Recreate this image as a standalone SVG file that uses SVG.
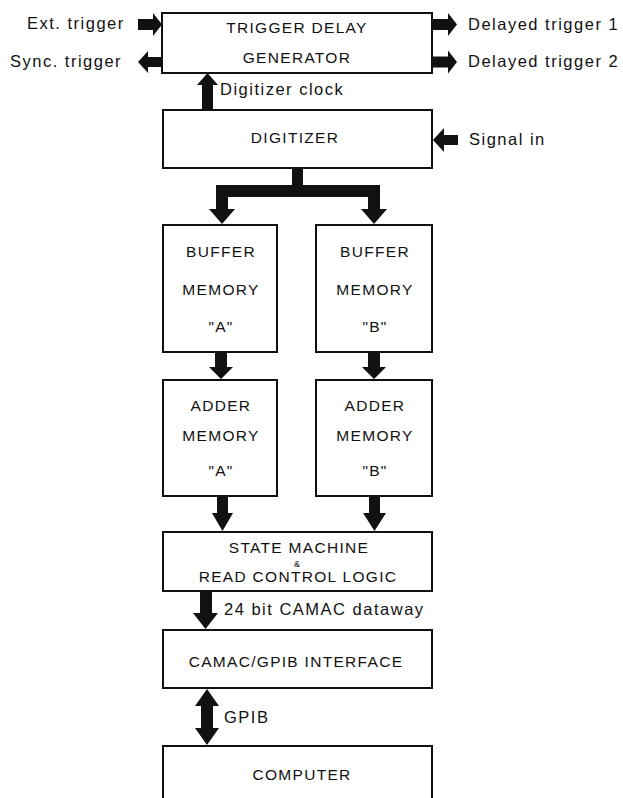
<svg xmlns="http://www.w3.org/2000/svg" width="623" height="798" viewBox="0 0 623 798">
<style>
.box{fill:#fff;stroke:#111;stroke-width:2}
.bt{font-family:"Liberation Sans",Arial,sans-serif;font-size:15.5px;letter-spacing:1.3px;fill:#111;text-anchor:middle}
.lb{font-family:"Liberation Sans",Arial,sans-serif;font-size:16.5px;letter-spacing:1.5px;fill:#111}
.ar{fill:#111;stroke:none}
</style>
<rect width="623" height="798" fill="#fff"/>
<g id="connectors">
<polygon class="ar" points="138,19 153,19 153,13 162,24.5 153,36 153,30 138,30"/>
<polygon class="ar" points="162,57 148,57 148,51 138,62 148,73 148,67 162,67"/>
<polygon class="ar" points="432,19 448,19 448,13 457,24.5 448,36 448,30 432,30"/>
<polygon class="ar" points="432,56.5 448,56.5 448,50.5 457,62 448,73.5 448,67.5 432,67.5"/>
<polygon class="ar" points="458,135 444,135 444,128 433,140 444,152 444,145 458,145"/>
<polygon class="ar" points="202,110 202,85 197,85 207.5,73 218,85 213,85 213,110"/>
<polygon class="ar" points="292,168 303,168 303,185 380,185 380,209 387,209 374,224 361,209 368,209 368,197 228,197 228,209 235,209 222,224 209,209 216,209 216,185 292,185"/>
<polygon class="ar" points="215,352 227,352 227,367 233,367 221,379 209,367 215,367"/>
<polygon class="ar" points="368,352 380,352 380,367 386,367 374,379 362,367 368,367"/>
<polygon class="ar" points="217,496 228,496 228,513 233,513 222.5,531 212,513 217,513"/>
<polygon class="ar" points="369,496 380,496 380,513 386,513 374.5,531 363,513 369,513"/>
<polygon class="ar" points="200,591 212,591 212,613 218,613 205.5,629 193,613 200,613"/>
<polygon class="ar" points="207,689 219,706 213,706 213,728 219,728 207,745 195,728 201,728 201,706 195,706"/>
</g>
<g id="trigger-delay">
<rect class="box" x="162" y="13" width="270" height="60"/>
<text class="bt" x="297" y="33">TRIGGER DELAY</text>
<text class="bt" x="297" y="63">GENERATOR</text>
</g>
<g id="digitizer">
<rect class="box" x="163" y="110" width="269" height="58"/>
<text class="bt" x="295" y="143">DIGITIZER</text>
</g>
<g id="buffer-a">
<rect class="box" x="163" y="225" width="114" height="127"/>
<text class="bt" x="221" y="257">BUFFER</text>
<text class="bt" x="221" y="295">MEMORY</text>
<text class="bt" x="221" y="332">"A"</text>
</g>
<g id="buffer-b">
<rect class="box" x="316" y="225" width="116" height="127"/>
<text class="bt" x="375" y="257">BUFFER</text>
<text class="bt" x="375" y="295">MEMORY</text>
<text class="bt" x="375" y="332">"B"</text>
</g>
<g id="adder-a">
<rect class="box" x="163" y="380" width="114" height="116"/>
<text class="bt" x="221" y="411">ADDER</text>
<text class="bt" x="221" y="441">MEMORY</text>
<text class="bt" x="221" y="476">"A"</text>
</g>
<g id="adder-b">
<rect class="box" x="316" y="380" width="116" height="116"/>
<text class="bt" x="375" y="411">ADDER</text>
<text class="bt" x="375" y="441">MEMORY</text>
<text class="bt" x="375" y="476">"B"</text>
</g>
<g id="state-machine">
<rect class="box" x="163" y="532" width="269" height="59"/>
<text class="bt" x="299" y="553">STATE MACHINE</text>
<text class="bt" x="297" y="567" style="font-size:9px;letter-spacing:0">&amp;</text>
<text class="bt" x="298" y="582">READ CONTROL LOGIC</text>
</g>
<g id="camac-gpib">
<rect class="box" x="163" y="630" width="269" height="58"/>
<text class="bt" x="296" y="667">CAMAC/GPIB INTERFACE</text>
</g>
<g id="computer">
<rect class="box" x="163" y="746" width="269" height="62"/>
<text class="bt" x="302" y="780">COMPUTER</text>
</g>
<g id="labels">
<text class="lb" x="27" y="29">Ext. trigger</text>
<text class="lb" x="10" y="67">Sync. trigger</text>
<text class="lb" x="468" y="30">Delayed trigger 1</text>
<text class="lb" x="468" y="67">Delayed trigger 2</text>
<text class="lb" x="220" y="95">Digitizer clock</text>
<text class="lb" x="469" y="145">Signal in</text>
<text class="lb" x="224" y="615">24 bit CAMAC dataway</text>
<text class="lb" x="224" y="723">GPIB</text>
</g>
</svg>
